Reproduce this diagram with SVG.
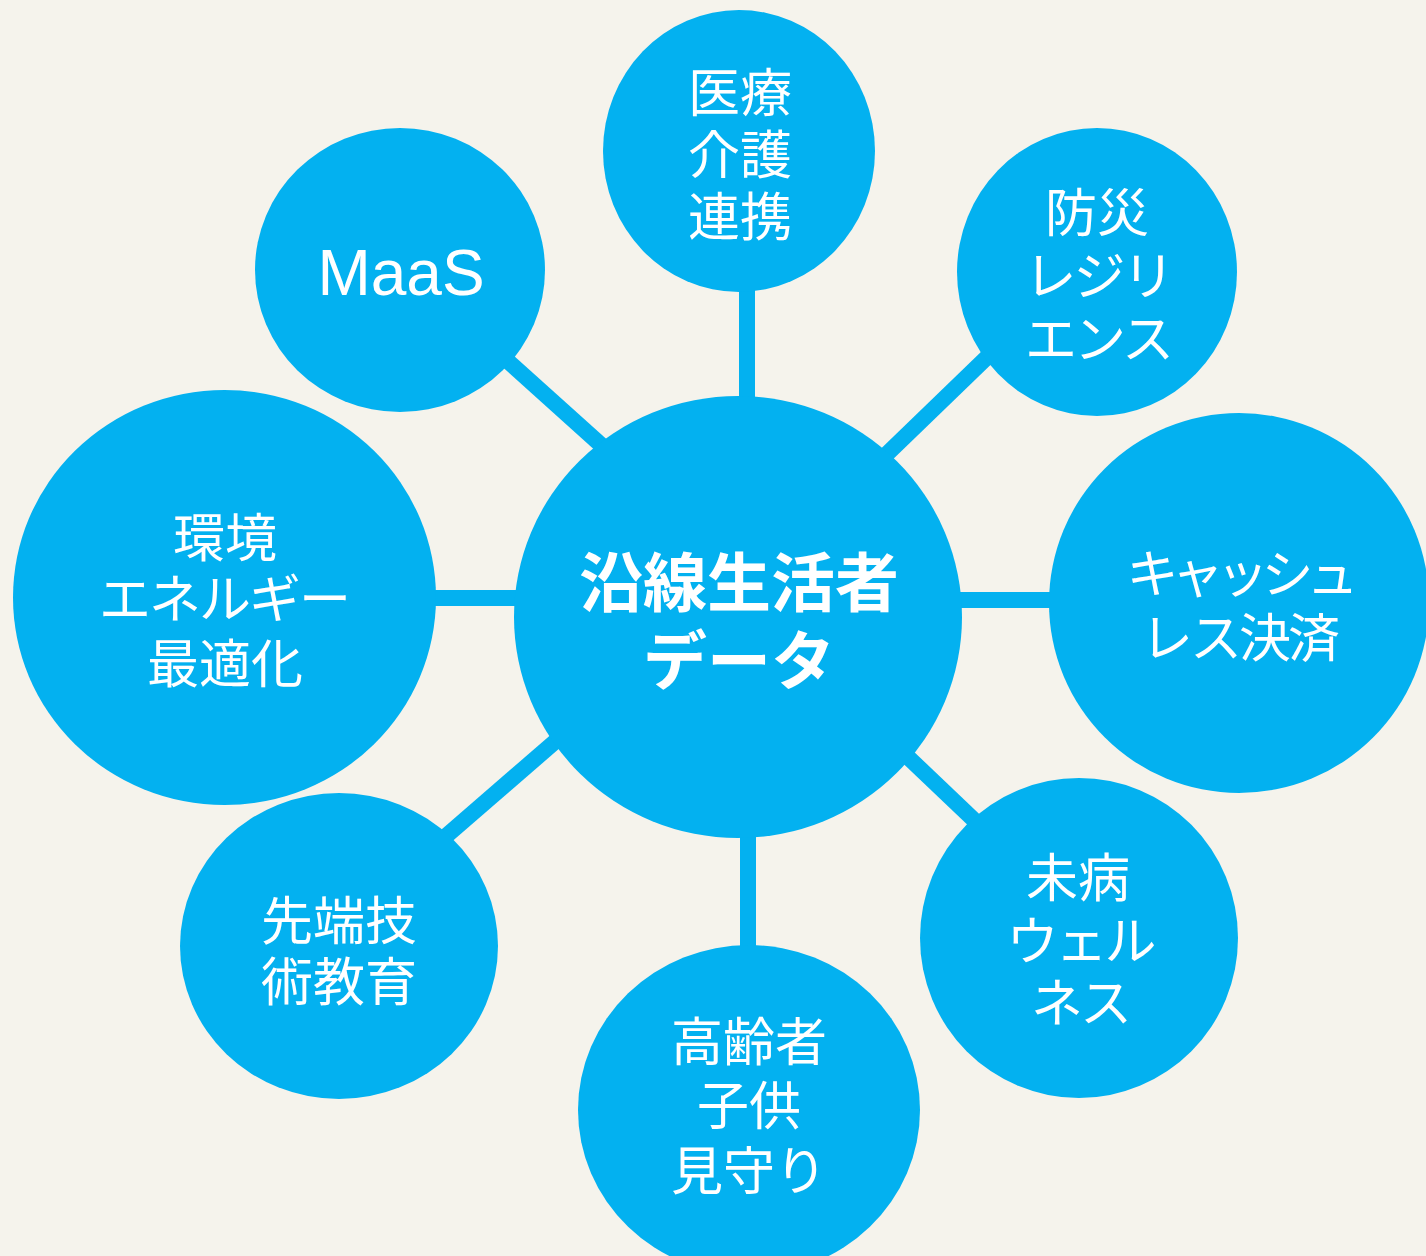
<svg xmlns="http://www.w3.org/2000/svg" width="1426" height="1256" viewBox="0 0 1426 1256">
<style>
.bub{fill:#03B1F0}
.lk{stroke:#03B1F0;stroke-width:16;fill:none}
.t{fill:#ffffff;font-family:"Noto Sans CJK JP","Noto Sans CJK SC",sans-serif;font-size:52px;text-anchor:middle}
.c{font-weight:bold;font-size:64px}
.m{font-family:"Liberation Sans",Arial,sans-serif;font-size:64px}
.k{letter-spacing:-3px}
.k2{letter-spacing:-2px}
.kk{letter-spacing:-7px}
</style>
<rect width="1426" height="1256" fill="#F5F3EC"/>
<g id="connectors">
<line class="lk" x1="747" y1="280" x2="747" y2="410"/>
<line class="lk" x1="490" y1="345" x2="640" y2="480"/>
<line class="lk" x1="1010" y1="335" x2="860" y2="480"/>
<line class="lk" x1="420" y1="598" x2="530" y2="598"/>
<line class="lk" x1="950" y1="600" x2="1060" y2="600"/>
<line class="lk" x1="430" y1="850" x2="580" y2="720"/>
<line class="lk" x1="748" y1="820" x2="748" y2="960"/>
<line class="lk" x1="890" y1="740" x2="995" y2="840"/>
</g>
<g id="center">
<ellipse class="bub" cx="738" cy="617" rx="224" ry="221"/>
<text class="t c" x="739" y="606">沿線生活者<tspan x="739" dy="78">データ</tspan></text>
</g>
<g id="medical">
<ellipse class="bub" cx="739" cy="151" rx="136" ry="141"/>
<text class="t" x="740" y="112">医療<tspan x="740" dy="62">介護</tspan><tspan x="740" dy="62">連携</tspan></text>
</g>
<g id="maas">
<ellipse class="bub" cx="400" cy="270" rx="145" ry="142"/>
<text class="t m" x="401" y="295">MaaS</text>
</g>
<g id="disaster">
<ellipse class="bub" cx="1097" cy="272" rx="140" ry="144"/>
<text class="t" x="1097" y="232">防災<tspan class="k" x="1098" dy="63">レジリ</tspan><tspan class="k" x="1098" dy="63">エンス</tspan></text>
</g>
<g id="environment">
<ellipse class="bub" cx="224.5" cy="597.5" rx="211.5" ry="207.5"/>
<text class="t" x="225" y="557">環境<tspan class="k2" x="224" dy="61">エネルギー</tspan><tspan x="225" dy="65">最適化</tspan></text>
</g>
<g id="cashless">
<ellipse class="bub" cx="1239" cy="603" rx="190" ry="190"/>
<text class="t" x="1239" y="593"><tspan class="kk">キャッシュ</tspan><tspan class="k" x="1239" dy="64">レス決済</tspan></text>
</g>
<g id="tech">
<ellipse class="bub" cx="339" cy="946" rx="159" ry="153"/>
<text class="t" x="339" y="940">先端技<tspan x="339" dy="61">術教育</tspan></text>
</g>
<g id="elderly">
<ellipse class="bub" cx="749" cy="1110" rx="171" ry="165"/>
<text class="t" x="749" y="1061">高齢者<tspan x="749" dy="64">子供</tspan><tspan x="749" dy="65">見守り</tspan></text>
</g>
<g id="wellness">
<ellipse class="bub" cx="1079" cy="938" rx="159" ry="160"/>
<text class="t" x="1078" y="897">未病<tspan class="k" x="1080" dy="63">ウェル</tspan><tspan class="k" x="1080" dy="62">ネス</tspan></text>
</g>
</svg>
